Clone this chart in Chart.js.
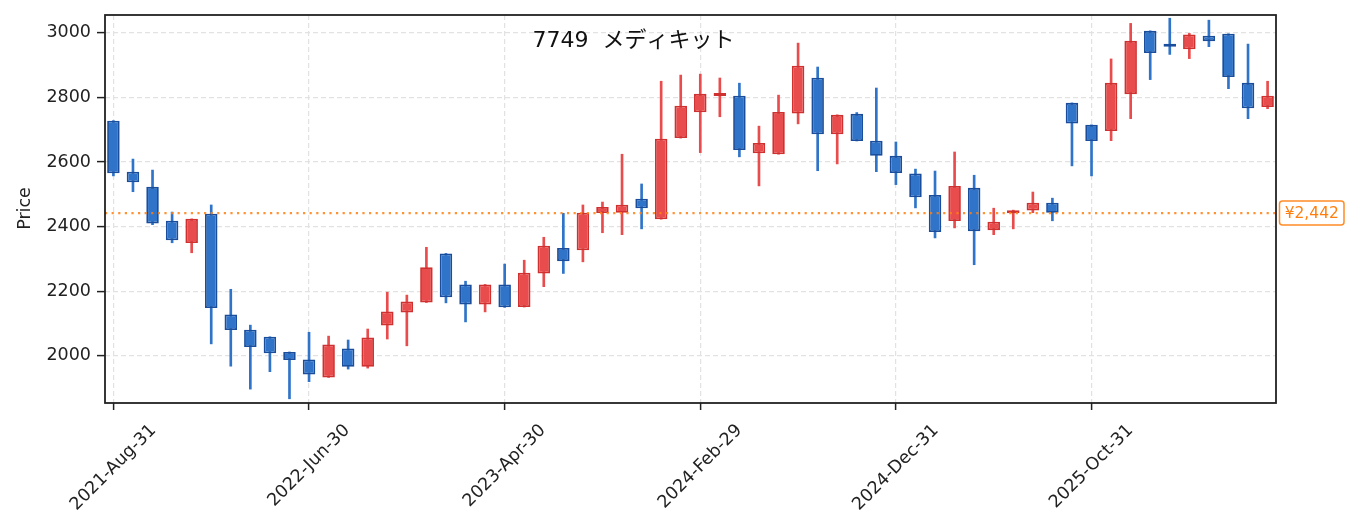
<!DOCTYPE html>
<html>
<head>
<meta charset="utf-8">
<script src="https://cdn.jsdelivr.net/npm/chart.js@4.4.1/dist/chart.umd.min.js"></script>
<style>
html,body{margin:0;padding:0;background:#fff;}
#c{display:block;}
</style>
</head>
<body>
<canvas id="c" width="1355" height="532" style="width:1355px;height:532px"></canvas>
<script>
// ---- data (monthly candles) ----
const chartTitle = "7749  メディキット";
const opens  = [2728,2570,2523,2418,2349,2440,2128,2081,2059,2012,1989,1933,2023,1966,2094,2134,2165,2317,2221,2159,
                2221,2151,2255,2334,2327,2442,2443,2486,2423,2674,2754,2804,2805,2627,2624,2750,2861,2686,2749,2666,
                2619,2564,2498,2417,2520,2389,2441,2450,2474,2783,2715,2696,2810,3006,2964,2949,2991,2997,2845,2770];
const highs  = [2728,2609,2575,2445,2424,2467,2206,2095,2059,2012,2073,2061,2049,2083,2197,2188,2336,2317,2231,2221,
                2284,2296,2367,2441,2467,2476,2624,2532,2850,2869,2872,2860,2844,2711,2807,2968,2894,2746,2753,2829,
                2662,2578,2572,2631,2559,2457,2451,2507,2488,2783,2715,2919,3029,3006,3045,2998,3039,2997,2965,2850];
const lows   = [2557,2508,2406,2350,2319,2037,1968,1897,1951,1867,1920,1933,1959,1962,2052,2031,2165,2164,2105,2136,
                2150,2151,2214,2255,2291,2381,2375,2393,2423,2674,2629,2740,2616,2526,2624,2718,2573,2594,2665,2570,
                2530,2458,2365,2396,2282,2375,2393,2443,2418,2588,2557,2666,2734,2855,2933,2920,2957,2827,2734,2765];
const closes = [2565,2537,2410,2358,2424,2148,2080,2027,2008,1987,1942,2035,1966,2057,2137,2168,2274,2181,2159,2221,
                2150,2257,2341,2293,2443,2461,2468,2457,2672,2774,2811,2807,2637,2659,2755,2898,2686,2746,2665,2619,
                2566,2491,2383,2526,2386,2415,2444,2474,2443,2719,2665,2845,2975,2937,2957,2995,2974,2863,2766,2805];
const tickIndex  = [0,10,20,30,40,50];
const tickLabels = ["2021-Aug-31","2022-Jun-30","2023-Apr-30","2024-Feb-29","2024-Dec-31","2025-Oct-31"];
const yTicks = [2000,2200,2400,2600,2800,3000];
const refPrice = 2442;
const refLabel = "¥2,442";

// ---- view ----
const X_MIN = -0.43, X_MAX = 59.43;
const Y_MIN = 1854, Y_MAX = 3055;
const UP_FILL = '#e84c4c', UP_EDGE = '#cf3030';
const DN_FILL = '#2f74c8', DN_EDGE = '#1a4d9c';
const ORANGE = '#ff7f0e';
const GRID = '#e2e2e2';
const INK = '#222222';
const FONT = '"DejaVu Sans", "Noto Sans CJK JP", sans-serif';

const idx = opens.map((_, i) => i);
const isUp = idx.map(i => closes[i] >= opens[i]);

const textPlugin = {
  id: 'decor',
  afterDraw(chart) {
    const ctx = chart.ctx;
    const a = chart.chartArea;
    const xs = chart.scales.x, ys = chart.scales.y;
    ctx.save();
    // frame
    ctx.strokeStyle = INK;
    ctx.lineWidth = 1.8;
    ctx.strokeRect(a.left, a.top, a.right - a.left, a.bottom - a.top);
    // title
    ctx.fillStyle = '#111';
    ctx.font = '22px ' + FONT;
    ctx.textAlign = 'center';
    ctx.textBaseline = 'middle';
    ctx.fillText(chartTitle, 633.5, 41);
    // y title
    ctx.save();
    ctx.translate(25, 208.5);
    ctx.rotate(-Math.PI / 2);
    ctx.font = '17.5px ' + FONT;
    ctx.fillStyle = INK;
    ctx.fillText('Price', 0, 0);
    ctx.restore();
    // x labels, rotated 45deg, centered under ticks
    ctx.font = '17.5px ' + FONT;
    ctx.fillStyle = INK;
    const fs = 17.5;
    const top = a.bottom + 18.5;
    tickIndex.forEach((v, k) => {
      const x = xs.getPixelForValue(v);
      const w = ctx.measureText(tickLabels[k]).width;
      const cy = top + (w + fs) * Math.SQRT1_2 / 2;
      ctx.save();
      ctx.translate(x, cy);
      ctx.rotate(-Math.PI / 4);
      ctx.textAlign = 'center';
      ctx.textBaseline = 'middle';
      ctx.fillText(tickLabels[k], 0, 0);
      ctx.restore();
    });
    // reference label
    const yr = ys.getPixelForValue(refPrice);
    const bx = 1279.5, bw = 64.5, bh = 24;
    ctx.beginPath();
    ctx.roundRect(bx, yr - bh / 2, bw, bh, 3);
    ctx.fillStyle = '#fff';
    ctx.fill();
    ctx.strokeStyle = ORANGE;
    ctx.globalAlpha = 0.9;
    ctx.lineWidth = 1.5;
    ctx.stroke();
    ctx.globalAlpha = 1;
    ctx.fillStyle = ORANGE;
    ctx.font = '15.5px ' + FONT;
    ctx.textAlign = 'center';
    ctx.textBaseline = 'middle';
    ctx.fillText(refLabel, bx + bw / 2, yr + 0.5);
    ctx.restore();
  }
};

new Chart(document.getElementById('c'), {
  type: 'bar',
  data: {
    datasets: [
      {
        type: 'line',
        data: [{x: X_MIN, y: refPrice}, {x: X_MAX, y: refPrice}],
        borderColor: 'rgba(255,127,14,0.85)',
        borderWidth: 2.2,
        borderDash: [2.2, 4.4],
        pointRadius: 0,
        fill: false,
        order: 0
      },
      {
        label: 'body',
        data: idx.map(i => ({x: i, y: [opens[i], closes[i]]})),
        backgroundColor: idx.map(i => isUp[i] ? UP_FILL : DN_FILL),
        borderColor: idx.map(i => isUp[i] ? UP_EDGE : DN_EDGE),
        borderWidth: 1.8,
        borderSkipped: false,
        grouped: false,
        categoryPercentage: 1,
        barPercentage: 0.64,
        minBarLength: 3,
        order: 1
      },
      {
        label: 'wick',
        data: idx.map(i => ({x: i, y: [lows[i], highs[i]]})),
        backgroundColor: idx.map(i => isUp[i] ? UP_FILL : DN_FILL),
        borderWidth: 0,
        grouped: false,
        barThickness: 2,
        order: 2
      }
    ]
  },
  options: {
    responsive: false,
    animation: false,
    devicePixelRatio: 1,
    layout: {padding: {left: 0, top: 15, right: 79, bottom: 0}},
    plugins: {legend: {display: false}, tooltip: {enabled: false}, title: {display: false}},
    scales: {
      x: {
        type: 'linear',
        min: X_MIN, max: X_MAX,
        offset: false,
        afterBuildTicks: s => { s.ticks = tickIndex.map(v => ({value: v})); },
        ticks: {display: false},
        grid: {offset: false, color: GRID, lineWidth: 1.2, drawTicks: true, tickLength: 7, tickColor: INK, tickWidth: 1.5},
        border: {display: false, dash: [5, 3]},
        afterFit: s => { s.height = 129; s.paddingLeft = 0; s.paddingRight = 0; }
      },
      y: {
        min: Y_MIN, max: Y_MAX,
        afterBuildTicks: s => { s.ticks = yTicks.map(v => ({value: v})); },
        ticks: {callback: v => String(v), font: {family: FONT, size: 17.5}, color: INK, padding: 6},
        grid: {offset: false, color: GRID, lineWidth: 1.2, drawTicks: true, tickLength: 8, tickColor: INK, tickWidth: 1.5},
        border: {display: false, dash: [5, 3]},
        afterFit: s => { s.width = 105; s.paddingTop = 0; s.paddingBottom = 0; }
      }
    }
  },
  plugins: [textPlugin]
});
</script>
</body>
</html>
